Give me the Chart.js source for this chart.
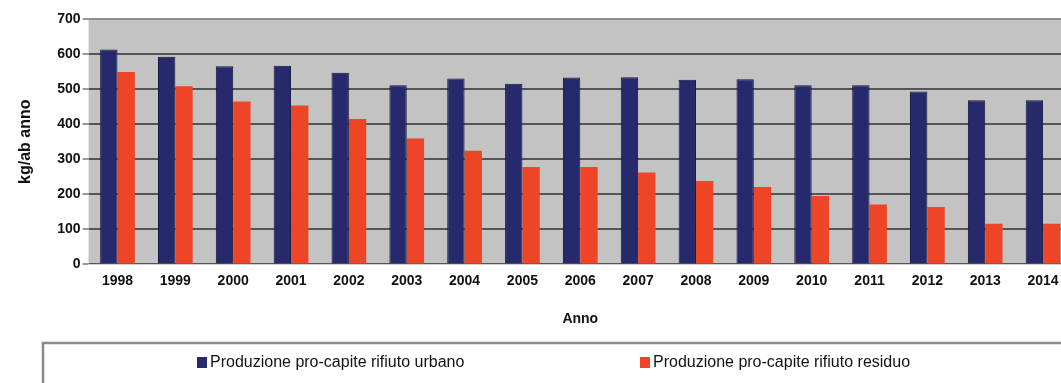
<!DOCTYPE html>
<html lang="it">
<head>
<meta charset="UTF-8">
<title>Produzione pro-capite rifiuti</title>
<script src="https://cdn.jsdelivr.net/npm/chart.js"></script>
<style>
    body {
        margin: 0;
        background: #fff;
        overflow: hidden;
    }
    .wrap {
        position: relative;
        width: 1082px;
        height: 383px;
    }
</style>
</head>
<body>
<div class="wrap">
    <canvas id="chart"></canvas>
</div>
<script>
    const anni = ['1998', '1999', '2000', '2001', '2002', '2003', '2004', '2005', '2006',
        '2007', '2008', '2009', '2010', '2011', '2012', '2013', '2014'];
    const urbano = [613, 592, 565, 567, 547, 511, 530, 515, 533, 534, 527, 528, 511, 511, 493, 468, 468];
    const residuo = [549, 508, 465, 453, 415, 359, 324, 278, 278, 262, 238, 221, 195, 171, 164, 116, 116];
    const nomi = ['Produzione pro-capite rifiuto urbano', 'Produzione pro-capite rifiuto residuo'];

    const fontFamily = '"Liberation Sans", Arial, sans-serif';

    // grey plot background
    const plotBg = {
        id: 'plotBg',
        beforeDraw(chart) {
            const a = chart.chartArea;
            const ctx = chart.ctx;
            ctx.save();
            ctx.fillStyle = '#c3c3c3';
            ctx.fillRect(a.left, a.top, a.right - a.left, a.bottom - a.top);
            ctx.restore();
        }
    };

    // legend inside a framed box under the chart
    const boxLegend = {
        id: 'boxLegend',
        afterDraw(chart) {
            const ctx = chart.ctx;
            ctx.save();
            ctx.strokeStyle = '#8a8a8a';
            ctx.lineWidth = 2.5;
            ctx.strokeRect(43, 343, chart.width, 60);
            const starts = [197, 640];
            ctx.font = '16px ' + fontFamily;
            ctx.textBaseline = 'middle';
            chart.data.datasets.forEach((ds, i) => {
                ctx.fillStyle = ds.backgroundColor;
                ctx.fillRect(starts[i], 357, 10, 11);
                ctx.fillStyle = '#111';
                ctx.fillText(ds.label, starts[i] + 13, 363);
            });
            ctx.restore();
        }
    };

    new Chart(document.getElementById('chart'), {
        type: 'bar',
        data: {
            labels: anni,
            datasets: [{
                label: nomi[0],
                data: urbano,
                backgroundColor: '#262a6c',
                borderColor: '#15183e',
                borderWidth: 1
            }, {
                label: nomi[1],
                data: residuo,
                backgroundColor: '#ee4526',
                borderWidth: 0
            }]
        },
        options: {
            responsive: true,
            maintainAspectRatio: false,
            animation: false,
            layout: {
                padding: { top: 19, right: 10, bottom: 51, left: 12 }
            },
            datasets: {
                bar: {
                    categoryPercentage: 0.6,
                    barPercentage: 1.0
                }
            },
            plugins: {
                legend: { display: false },
                tooltip: { enabled: false }
            },
            scales: {
                x: {
                    grid: { display: false },
                    border: { color: '#d0d0d0' },
                    ticks: {
                        color: '#111',
                        font: { family: fontFamily, size: 14, weight: 'bold' },
                        padding: 0,
                        maxRotation: 0,
                        autoSkip: false
                    },
                    title: {
                        display: true,
                        text: 'Anno',
                        color: '#111',
                        font: { family: fontFamily, size: 14, weight: 'bold' },
                        padding: { top: 22 }
                    }
                },
                y: {
                    min: 0,
                    max: 700,
                    border: { display: false },
                    grid: {
                        color: ctx => ctx.tick && ctx.tick.value === 700 ? '#8e8e8e' : '#555555',
                        lineWidth: 2,
                        tickLength: 6,
                        tickColor: '#999'
                    },
                    ticks: {
                        stepSize: 100,
                        color: '#111',
                        font: { family: fontFamily, size: 14, weight: 'bold' },
                        padding: 2
                    },
                    title: {
                        display: true,
                        text: 'kg/ab anno',
                        color: '#111',
                        font: { family: fontFamily, size: 16, weight: 'bold' },
                        padding: { bottom: 20 }
                    }
                }
            }
        },
        plugins: [plotBg, boxLegend]
    });
</script>
</body>
</html>
